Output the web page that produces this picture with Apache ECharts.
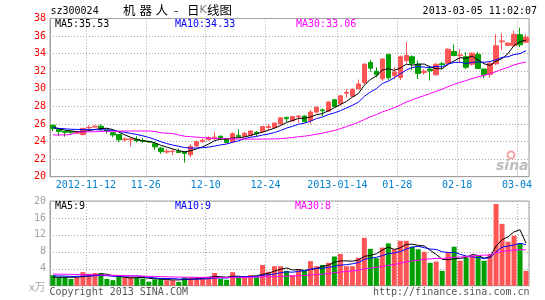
<!DOCTYPE html>
<html>
<head>
<meta charset="utf-8">
<script src="https://cdn.jsdelivr.net/npm/echarts@6/dist/echarts.min.js"></script>
<style>html,body{margin:0;padding:0;background:#fff}#c{width:545px;height:300px}</style>
</head>
<body>
<div id="c"></div>
<script>
const dates = ['2012-11-02','2012-11-05','2012-11-06','2012-11-07','2012-11-08','2012-11-09',
'2012-11-12','2012-11-13','2012-11-14','2012-11-15','2012-11-16',
'2012-11-19','2012-11-20','2012-11-21','2012-11-22','2012-11-23',
'2012-11-26','2012-11-27','2012-11-28','2012-11-29','2012-11-30',
'2012-12-03','2012-12-04','2012-12-05','2012-12-06','2012-12-07',
'2012-12-10','2012-12-11','2012-12-12','2012-12-13','2012-12-14',
'2012-12-17','2012-12-18','2012-12-19','2012-12-20','2012-12-21',
'2012-12-24','2012-12-25','2012-12-26','2012-12-27','2012-12-28',
'2012-12-31','2013-01-04',
'2013-01-07','2013-01-08','2013-01-09','2013-01-10','2013-01-11',
'2013-01-14','2013-01-15','2013-01-16','2013-01-17','2013-01-18',
'2013-01-21','2013-01-22','2013-01-23','2013-01-24','2013-01-25',
'2013-01-28','2013-01-29','2013-01-30','2013-01-31','2013-02-01',
'2013-02-04','2013-02-05','2013-02-06','2013-02-07','2013-02-08',
'2013-02-18','2013-02-19','2013-02-20','2013-02-21','2013-02-22',
'2013-02-25','2013-02-26','2013-02-27','2013-02-28','2013-03-01',
'2013-03-04','2013-03-05'];

const tickDates  = ['2012-11-12','2012-11-26','2012-12-10','2012-12-24','2013-01-14','2013-01-28','2013-02-18','2013-03-04'];
const tickLabels = ['2012-11-12','11-26','12-10','12-24','2013-01-14','01-28','02-18','03-04'];

const open = [25.85,25.4,25.15,25.15,24.95,24.8,25.55,25.65,25.75,25.3,
25.0,24.8,24.2,24.2,24.25,24.1,24.0,23.75,23.25,22.8,
22.85,22.9,22.8,22.5,23.5,24.0,24.2,24.35,24.6,24.35,
23.95,24.7,24.6,24.7,25.05,25.15,25.6,25.6,26.0,26.75,
26.35,26.8,26.9,26.4,27.35,27.6,27.45,28.75,28.3,29.5,
29.15,30.0,30.7,33.0,32.0,31.15,33.9,31.5,31.3,33.2,
33.65,32.8,31.85,32.25,31.6,32.85,32.9,34.25,33.75,33.65,
32.8,33.9,32.25,31.65,32.85,35.35,34.95,34.9,36.15,35.3];
const close = [25.47,25.15,25.05,25.05,25.0,25.5,25.6,25.75,25.5,25.2,
24.75,24.2,24.3,24.3,24.1,24.05,23.95,23.4,22.85,22.9,
22.9,22.75,22.65,23.45,24.0,24.15,24.45,24.5,24.3,23.9,
24.9,24.55,24.95,25.2,24.9,25.7,25.7,26.1,26.7,26.6,
26.85,26.9,26.25,27.35,27.9,27.5,28.5,28.0,29.2,29.6,
29.95,30.55,32.8,32.35,31.6,33.4,31.25,31.9,33.65,33.8,
32.9,31.75,32.0,32.05,32.8,32.75,34.5,33.8,33.85,32.45,
34.05,32.3,31.6,32.9,34.9,35.45,35.2,36.2,35.0,35.85];
const low = [25.17,24.65,24.55,24.8,24.85,24.7,25.3,25.6,25.2,24.9,
24.5,23.95,24.0,23.45,23.9,23.85,23.85,23.05,22.6,22.6,
22.45,22.7,21.6,22.2,23.4,23.85,24.1,24.15,24.15,23.8,
23.85,24.45,24.5,24.6,24.6,25.05,25.3,25.5,25.9,26.2,
26.3,26.1,26.2,26.0,27.2,26.85,27.4,27.9,28.1,29.0,
29.1,29.9,30.5,31.95,31.3,30.9,31.0,31.1,31.0,32.9,
32.1,31.1,31.6,30.95,31.5,32.25,32.6,33.7,33.0,32.25,
32.65,32.25,31.2,31.25,32.7,34.4,34.9,34.85,34.75,35.2];
const high = [25.96,25.45,25.2,25.25,25.05,25.55,25.85,25.85,25.95,25.35,
25.05,24.85,24.45,24.45,24.6,24.4,24.1,24.0,23.4,23.15,
23.1,23.2,22.85,23.7,24.1,24.35,24.6,25.1,24.7,24.4,
25.05,25.4,25.05,25.3,25.2,25.75,26.0,26.15,26.75,26.8,
26.9,27.0,27.0,27.6,28.0,27.75,28.6,28.8,29.3,30.0,
30.05,31.05,32.9,33.3,32.45,33.45,34.0,32.45,33.8,35.3,
33.8,33.2,32.25,32.45,32.9,33.05,34.6,35.05,34.5,34.15,
34.15,34.2,32.3,33.05,36.2,36.3,35.3,36.65,36.95,36.2];

const ma5 = [25.6,25.45,25.3,25.2,25.14,25.15,25.24,25.38,25.47,25.51,
25.36,25.08,24.75,24.48,24.24,24.08,24.02,23.85,23.58,23.37,
23.16,22.96,22.83,22.95,23.17,23.4,23.72,24.1,24.28,24.26,
24.41,24.43,24.52,24.7,24.9,25.06,25.29,25.52,25.82,26.16,
26.39,26.63,26.66,26.79,27.05,27.18,27.5,27.85,28.22,28.56,
29.05,29.46,30.42,31.05,31.45,32.14,32.28,32.1,32.36,32.8,
32.7,32.8,32.82,32.5,32.3,32.27,32.82,33.18,33.54,33.47,
33.73,33.29,32.85,32.66,33.15,33.43,34.01,34.93,35.35,35.54];
const ma10 = [25.6,25.5,25.45,25.4,25.38,25.36,25.35,25.35,25.34,25.33,
25.26,25.14,25.05,24.92,24.8,24.65,24.47,24.24,23.98,23.77,
23.6,23.46,23.32,23.25,23.27,23.3,23.37,23.48,23.62,23.72,
23.92,24.09,24.32,24.49,24.58,24.74,24.86,25.02,25.26,25.53,
25.73,25.96,26.09,26.31,26.61,26.79,27.07,27.26,27.51,27.81,
28.12,28.48,29.14,29.64,30.01,30.6,30.87,31.26,31.71,32.13,
32.42,32.54,32.46,32.43,32.55,32.49,32.81,33.0,33.02,32.89,
33.0,33.06,33.02,33.1,33.31,33.58,33.65,33.89,34.01,34.33];
const ma30 = [24.75,24.75,24.75,24.8,25.05,25.1,25.1,25.12,25.15,25.15,
25.17,25.18,25.2,25.2,25.2,25.2,25.2,25.15,25.0,24.95,
24.9,24.75,24.6,24.55,24.5,24.45,24.4,24.35,24.33,24.32,
24.3,24.28,24.28,24.28,24.28,24.28,24.29,24.3,24.34,24.39,
24.46,24.55,24.61,24.71,24.84,24.95,25.11,25.26,25.47,25.69,
25.92,26.18,26.51,26.81,27.06,27.37,27.6,27.85,28.16,28.49,
28.75,28.99,29.23,29.46,29.72,29.96,30.25,30.51,30.74,30.94,
31.18,31.36,31.54,31.72,31.96,32.22,32.44,32.72,32.91,33.06];

const volume = [2.5,2.0,2.0,1.6,1.9,3.2,2.8,3.0,3.0,1.6,
1.3,2.1,2.0,2.1,2.0,1.7,0.95,1.5,1.8,1.3,
1.3,0.9,2.0,2.0,2.0,2.0,2.0,3.0,1.6,1.4,
3.2,2.0,2.0,2.5,2.0,4.9,3.3,4.6,4.6,3.5,
2.5,3.9,3.5,5.8,4.6,4.9,5.4,6.9,7.5,4.6,
4.6,6.6,11.3,8.7,6.5,9.0,10.0,8.6,10.6,10.6,
9.2,8.6,8.0,5.4,5.7,3.5,8.0,9.2,5.9,6.6,
7.1,7.0,5.9,7.5,19.3,14.6,10.4,11.8,10.0,3.5];
const volMa5 = [2.0,2.0,2.0,2.0,2.0,2.14,2.3,2.5,2.78,2.72,
2.34,2.2,2.0,1.82,1.9,1.98,1.75,1.65,1.59,1.45,
1.37,1.36,1.46,1.5,1.64,1.78,2.0,2.2,2.12,2.0,
2.24,2.24,2.04,2.22,2.34,2.68,2.94,3.46,3.88,4.18,
3.7,3.82,3.6,3.84,4.06,4.54,4.84,5.52,5.86,5.86,
5.8,6.04,6.92,7.16,7.54,8.42,9.1,8.56,8.94,9.76,
9.8,9.52,9.4,8.36,7.38,6.24,6.12,6.36,6.46,6.64,
7.36,7.16,6.5,6.82,9.36,10.86,11.54,12.72,13.22,10.06];
const volMa10 = [2.3,2.3,2.25,2.2,2.2,2.25,2.3,2.35,2.4,2.36,
2.24,2.25,2.25,2.3,2.31,2.16,1.98,1.83,1.71,1.68,
1.68,1.56,1.56,1.55,1.55,1.58,1.68,1.83,1.81,1.82,
2.01,2.12,2.12,2.17,2.17,2.46,2.59,2.75,3.05,3.26,
3.19,3.38,3.53,3.86,4.12,4.12,4.33,4.56,4.85,4.96,
5.17,5.44,6.22,6.51,6.7,7.11,7.57,7.74,8.05,8.65,
9.11,9.31,8.98,8.65,8.57,8.02,7.82,7.88,7.41,7.01,
6.8,6.64,6.43,6.64,8.0,9.11,9.35,9.61,10.02,9.71];
const volMa30 = [2.75,2.72,2.7,2.68,2.65,2.62,2.6,2.57,2.54,2.5,
2.45,2.42,2.38,2.35,2.3,2.26,2.22,2.18,2.14,2.1,
2.06,2.03,2.0,2.0,1.98,1.97,1.96,1.96,1.95,1.95,
1.98,1.98,1.98,2.0,2.01,2.07,2.08,2.14,2.19,2.25,
2.29,2.35,2.4,2.53,2.61,2.72,2.87,3.05,3.24,3.35,
3.46,3.65,3.96,4.18,4.33,4.56,4.83,5.02,5.32,5.62,
5.82,6.04,6.24,6.34,6.46,6.42,6.57,6.73,6.77,6.87,
7.03,7.13,7.21,7.27,7.76,8.08,8.25,8.41,8.49,8.46];

const UP = '#ff5555', DOWN = '#00a000';
const MONO = '"DejaVu Sans Mono", "Liberation Mono", monospace';
const GRIDC = '#a8a8a8', BORDER = '#a0a0a0';

const tickIdx = tickDates.map(d => dates.indexOf(d));
const isTick = i => tickIdx.indexOf(i) >= 0;
const labelOf = v => { const k = tickDates.indexOf(v); return k >= 0 ? tickLabels[k] : ''; };

const kData = dates.map((d, i) => [open[i], close[i], low[i], high[i]]);
const volData = volume.map((v, i) => ({ value: v, itemStyle: { color: close[i] >= open[i] ? UP : DOWN } }));

function maLine(name, data, color, xi) {
  return { name, type: 'line', data, xAxisIndex: xi, yAxisIndex: xi, symbol: 'none', silent: true,
    lineStyle: { color, width: 1 }, z: 5 };
}
function xAx(gi, showLabel) {
  return { type: 'category', gridIndex: gi, data: dates, boundaryGap: true,
    axisLine: { lineStyle: { color: BORDER } }, axisTick: { show: false },
    axisLabel: { show: showLabel, interval: (i) => isTick(i), formatter: labelOf, color: '#0082d2',
      fontFamily: MONO, fontSize: 10, margin: 4, padding: [0, 6, 0, 0] },
    splitLine: { show: true, interval: (i) => isTick(i), lineStyle: { color: GRIDC, type: [1, 2], width: 1 } } };
}
function txt(x, y, text, fill, opts) {
  return Object.assign({ type: 'text', x, y, silent: true, z: 100,
    style: Object.assign({ text, fill, font: '10px ' + MONO, textVerticalAlign: 'middle' }, opts || {}) });
}

const chart = echarts.init(document.getElementById('c'), null, { renderer: 'canvas' });
chart.setOption({
  animation: false,
  backgroundColor: '#ffffff',
  grid: [
    { left: 50, right: 16, top: 18.5, height: 158.2, show: true, borderColor: BORDER, borderWidth: 1 },
    { left: 50, right: 16, top: 201, height: 84.7, show: true, borderColor: BORDER, borderWidth: 1 }
  ],
  xAxis: [xAx(0, true), xAx(1, false)],
  yAxis: [
    { type: 'value', gridIndex: 0, min: 20, max: 38, interval: 2,
      axisLine: { show: true, lineStyle: { color: BORDER } }, axisTick: { show: false },
      axisLabel: { color: '#ff0000', fontFamily: MONO, fontSize: 10, margin: 4 },
      splitLine: { lineStyle: { color: GRIDC, type: [1, 2] } } },
    { type: 'value', gridIndex: 1, min: 0, max: 20, interval: 4,
      axisLine: { show: true, lineStyle: { color: BORDER } }, axisTick: { show: false },
      axisLabel: { color: '#a0a0a0', fontFamily: MONO, fontSize: 10, margin: 4, formatter: v => v === 0 ? '' : v },
      splitLine: { lineStyle: { color: GRIDC, type: [1, 2] } } }
  ],
  series: [
    { name: 'K', type: 'candlestick', data: kData, xAxisIndex: 0, yAxisIndex: 0, barWidth: 5, silent: true,
      itemStyle: { color: UP, color0: DOWN, borderColor: UP, borderColor0: DOWN, borderWidth: 1 } },
    maLine('MA5', ma5, '#000000', 0),
    maLine('MA10', ma10, '#0000ff', 0),
    maLine('MA30', ma30, '#ff00ff', 0),
    { name: 'VOL', type: 'bar', data: volData, xAxisIndex: 1, yAxisIndex: 1, barWidth: 5, silent: true },
    maLine('VMA5', volMa5, '#000000', 1),
    maLine('VMA10', volMa10, '#0000ff', 1),
    maLine('VMA30', volMa30, '#ff00ff', 1)
  ],
  graphic: [
    txt(50.5, 11, 'sz300024', '#000'),
    txt(123, 10.5, '机', '#000', { font: '12.5px "Noto Sans CJK SC"' }),
    txt(139.5, 10.5, '器', '#000', { font: '12.5px "Noto Sans CJK SC"' }),
    txt(155.5, 10.5, '人', '#000', { font: '12.5px "Noto Sans CJK SC"' }),
    txt(174, 10.5, '-', '#000', { font: '12px "Noto Sans CJK SC"' }),
    txt(187, 10.5, '日', '#000', { font: '12.5px "Noto Sans CJK SC"' }),
    txt(199.5, 10.5, 'K', '#777', { font: '11px "DejaVu Sans"' }),
    txt(207, 10.5, '线图', '#000', { font: '12.5px "Noto Sans CJK SC"' }),
    txt(537, 11, '2013-03-05 11:02:07', '#000', { textAlign: 'right' }),
    txt(55, 24.5, 'MA5:35.53', '#000'),
    txt(175, 24.5, 'MA10:34.33', '#0000ff'),
    txt(296, 24.5, 'MA30:33.06', '#ff00ff'),
    txt(55, 206.5, 'MA5:9', '#000'),
    txt(175, 206.5, 'MA10:9', '#0000ff'),
    txt(295, 206.5, 'MA30:8', '#ff00ff'),
    txt(29, 286.5, 'x万', '#a8a8a8', { font: '11px "Noto Sans CJK SC"' }),
    txt(49.5, 292.5, 'Copyright 2013 SINA.COM', '#555'),
    txt(529.5, 292.5, 'http://finance.sina.com.cn', '#555', { textAlign: 'right' }),
    { type: 'circle', shape: { cx: 511, cy: 155, r: 3.5 }, style: { fill: 'none', stroke: '#f3a5a5', lineWidth: 2 }, silent: true, z: 1 },
    txt(496, 166, 'sina', '#bdbdbd', { font: 'italic bold 14px "DejaVu Sans"' })
  ]
});
</script>
</body>
</html>
